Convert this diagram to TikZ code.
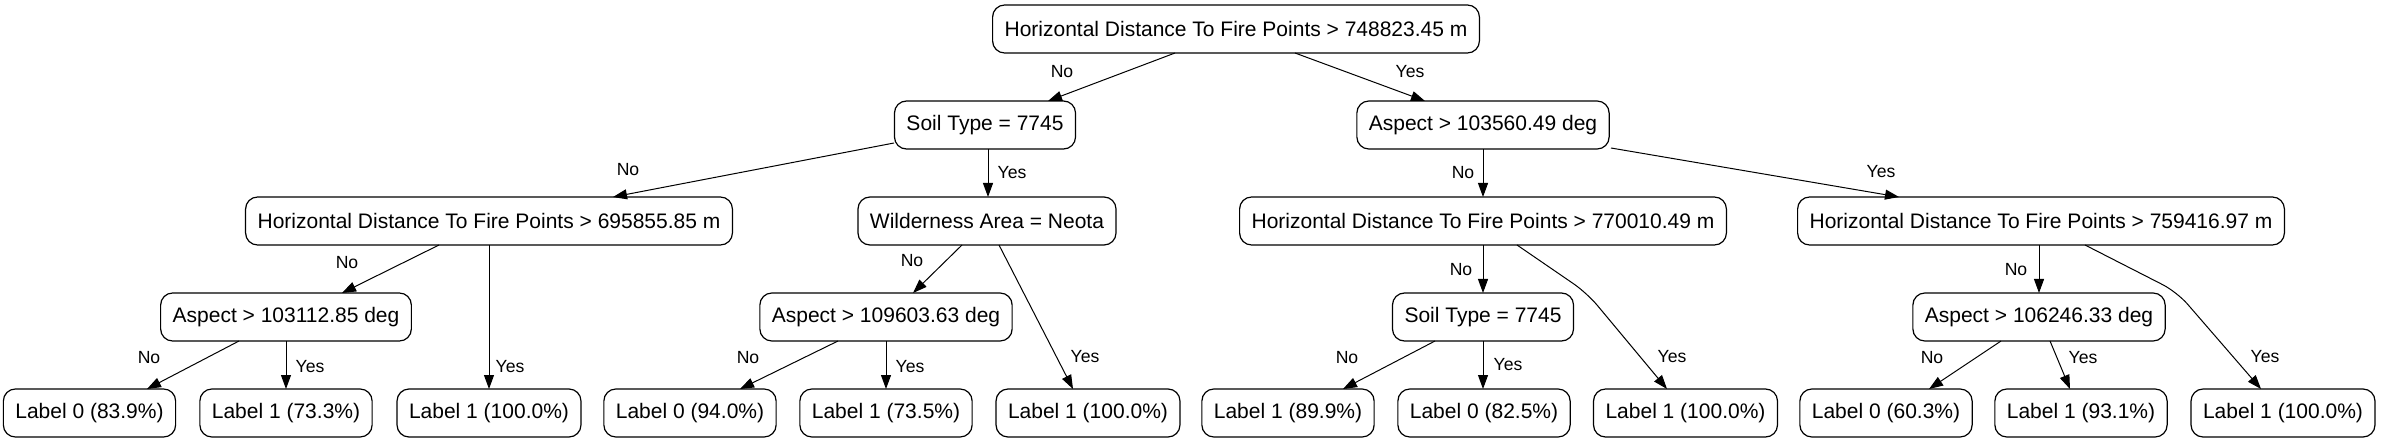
\documentclass[tikz,border=0pt]{standalone}
\usepackage{fontspec}
\setmainfont{Liberation Sans}
\usetikzlibrary{arrows.meta}
\begin{document}
\begin{tikzpicture}[x=0.5pt,y=-0.5pt,
  tbox/.style={draw=black,line width=0.6pt,rounded corners=6pt,minimum height=24pt,
    inner xsep=6pt,inner ysep=0pt,font=\fontsize{10.5}{12}\selectfont,anchor=center},
  elab/.style={inner sep=0pt,font=\fontsize{8.8}{10}\selectfont,anchor=center},
  edge/.style={draw=black,line width=0.5pt,-{Triangle[length=7pt,width=5pt]}}]
\useasboundingbox (0,0) rectangle (2382,443);
% nodes
\node[tbox] (root) at (1236,29) {Horizontal Distance To Fire Points > 748823.45 m};
\node[tbox] (soil1) at (985,125) {Soil Type = 7745};
\node[tbox] (asp1) at (1483,125) {Aspect > 103560.49 deg};
\node[tbox] (hd1) at (489,221) {Horizontal Distance To Fire Points > 695855.85 m};
\node[tbox] (wild) at (987,221) {Wilderness Area = Neota};
\node[tbox] (hd3) at (1483,221) {Horizontal Distance To Fire Points > 770010.49 m};
\node[tbox] (hd4) at (2041,221) {Horizontal Distance To Fire Points > 759416.97 m};
\node[tbox] (asp2) at (286,317) {Aspect > 103112.85 deg};
\node[tbox] (asp3) at (886,317) {Aspect > 109603.63 deg};
\node[tbox] (soil3) at (1483,317) {Soil Type = 7745};
\node[tbox] (asp4) at (2039,317) {Aspect > 106246.33 deg};
\node[tbox] (l1) at (89.5,413) {Label 0 (83.9\%)};
\node[tbox] (l2) at (286,413) {Label 1 (73.3\%)};
\node[tbox] (l3) at (489,413) {Label 1 (100.0\%)};
\node[tbox] (l4) at (690,413) {Label 0 (94.0\%)};
\node[tbox] (l5) at (886,413) {Label 1 (73.5\%)};
\node[tbox] (l6) at (1088,413) {Label 1 (100.0\%)};
\node[tbox] (l7) at (1288,413) {Label 1 (89.9\%)};
\node[tbox] (l8) at (1484,413) {Label 0 (82.5\%)};
\node[tbox] (l9) at (1685.5,413) {Label 1 (100.0\%)};
\node[tbox] (l10) at (1886,413) {Label 0 (60.3\%)};
\node[tbox] (l11) at (2081,413) {Label 1 (93.1\%)};
\node[tbox] (l12) at (2283,413) {Label 1 (100.0\%)};
% bend points
\coordinate (b1) at (1587,293);
\coordinate (b2) at (2177,292);
% edges
\draw[edge] ([shift={(-61,24)}]root.center) -- ([shift={(63,-24)}]soil1.center);
\draw[edge] ([shift={(59,24)}]root.center) -- ([shift={(-58,-24)}]asp1.center);
\draw[edge] ([shift={(-91,18)}]soil1.center) -- ([shift={(124,-24)}]hd1.center);
\draw[edge] ([shift={(3,24)}]soil1.center) -- ([shift={(1,-24)}]wild.center);
\draw[edge] ([shift={(0,24)}]asp1.center) -- ([shift={(0,-24)}]hd3.center);
\draw[edge] ([shift={(128,23)}]asp1.center) -- ([shift={(-142,-24)}]hd4.center);
\draw[edge] ([shift={(-50,24)}]hd1.center) -- ([shift={(56,-24)}]asp2.center);
\draw[edge] ([shift={(0,24)}]hd1.center) -- ([shift={(0,-24)}]l3.center);
\draw[edge] ([shift={(-47,24)}]asp2.center) -- ([shift={(57.5,-24)}]l1.center);
\draw[edge] ([shift={(0,24)}]asp2.center) -- ([shift={(0,-24)}]l2.center);
\draw[edge] ([shift={(-25,24)}]wild.center) -- ([shift={(27,-24)}]asp3.center);
\draw[edge] ([shift={(12,24)}]wild.center) -- ([shift={(-15,-24)}]l6.center);
\draw[edge] ([shift={(-48,24)}]asp3.center) -- ([shift={(50,-24)}]l4.center);
\draw[edge] ([shift={(0,24)}]asp3.center) -- ([shift={(0,-24)}]l5.center);
\draw[edge] ([shift={(0,24)}]hd3.center) -- ([shift={(0,-24)}]soil3.center);
\draw[edge,rounded corners=8pt] ([shift={(34,24)}]hd3.center) -- (b1) -- ([shift={(-18.5,-24)}]l9.center);
\draw[edge] ([shift={(-48,24)}]soil3.center) -- ([shift={(55,-24)}]l7.center);
\draw[edge] ([shift={(0,24)}]soil3.center) -- ([shift={(-1,-24)}]l8.center);
\draw[edge] ([shift={(-2,24)}]hd4.center) -- ([shift={(0,-24)}]asp4.center);
\draw[edge,rounded corners=8pt] ([shift={(44,24)}]hd4.center) -- (b2) -- ([shift={(-22,-24)}]l12.center);
\draw[edge] ([shift={(-38,24)}]asp4.center) -- ([shift={(43,-24)}]l10.center);
\draw[edge] ([shift={(11,24)}]asp4.center) -- ([shift={(-11,-24)}]l11.center);
% edge labels
\node[elab] (t1) at (1062,72) {No};
\node[elab] (t2) at (1410,72) {Yes};
\node[elab] (t3) at (628,170) {No};
\node[elab] (t4) at (1012,173) {Yes};
\node[elab] (t5) at (1463,173) {No};
\node[elab] (t6) at (1881,172) {Yes};
\node[elab] (t7) at (347,263) {No};
\node[elab] (t8) at (510,367) {Yes};
\node[elab] (t9) at (149,358) {No};
\node[elab] (t10) at (310,367) {Yes};
\node[elab] (t11) at (912,261) {No};
\node[elab] (t12) at (1085,357) {Yes};
\node[elab] (t13) at (748,358) {No};
\node[elab] (t14) at (910,367) {Yes};
\node[elab] (t15) at (1461,270) {No};
\node[elab] (t16) at (1672,357) {Yes};
\node[elab] (t17) at (1347,358) {No};
\node[elab] (t18) at (1508,365) {Yes};
\node[elab] (t19) at (2016,270) {No};
\node[elab] (t20) at (2265,357) {Yes};
\node[elab] (t21) at (1932,358) {No};
\node[elab] (t22) at (2083,358) {Yes};
\end{tikzpicture}
\end{document}
